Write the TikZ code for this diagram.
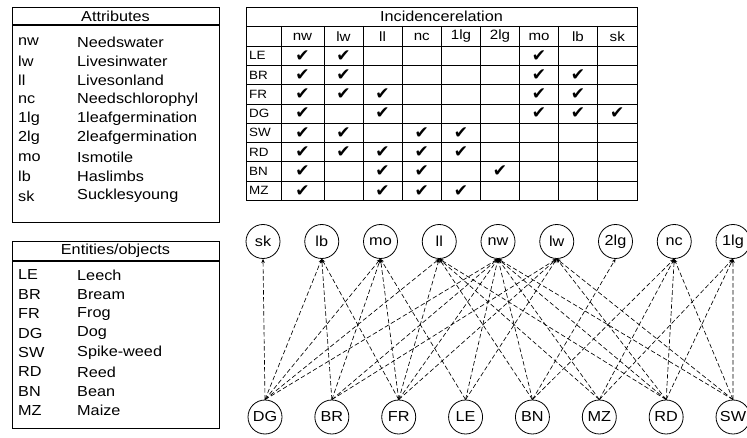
\documentclass[tikz,border=0pt]{standalone}
\usepackage{fontspec}
\setmainfont[FakeStretch=1.12]{Liberation Sans}
\newfontfamily\dv{DejaVu Sans}
\usetikzlibrary{arrows.meta}
\begin{document}
\begin{tikzpicture}[x=1pt,y=-1pt,
  frame/.style={draw=black,line width=0.9pt},
  sep/.style={draw=black,line width=1.4pt},
  grid/.style={draw=black,line width=0.7pt},
  ttl/.style={font=\fontsize{14.5}{16}\selectfont,inner sep=0pt},
  lbl/.style={font=\fontsize{14.5}{16}\selectfont,inner sep=0pt,anchor=west},
  hdr/.style={font=\fontsize{13.5}{15}\selectfont,inner sep=0pt},
  rl/.style={font=\fontsize{12}{13}\selectfont,inner sep=0pt,anchor=west},
  chk/.style={font=\dv\fontsize{17}{18}\selectfont,inner sep=0pt},
  vtx/.style={circle,draw=black,line width=0.8pt,minimum size=34pt,inner sep=0pt,font=\fontsize{14.5}{16}\selectfont},
  edge/.style={draw=black,line width=0.65pt,dash pattern=on 4.5pt off 2.5pt,-{Stealth[length=4pt,width=3.5pt]}}
]
\useasboundingbox (0,0) rectangle (747,438);
\fill[white] (0,0) rectangle (747,438);
% Attributes box
\draw[frame] (12,7) rectangle (219,222);
\draw[sep] (12,25) -- (219,25);
\node[ttl] (attT) at (115.5,16) {Attributes};
\foreach \a/\n [count=\i from 0] in {nw/Needswater,lw/Livesinwater,ll/Livesonland,nc/Needschlorophyl,1lg/1leafgermination,2lg/2leafgermination,mo/Ismotile,lb/Haslimbs,sk/Sucklesyoung}{
  \node[lbl] (aa\i) at (18,{42+19.25*\i}) {\a};
  \node[lbl] (an\i) at (77,{42+19.25*\i}) {\n};
}
% Entities box
\draw[frame] (12,241) rectangle (219,428);
\draw[sep] (12,261) -- (219,261);
\node[ttl] (entT) at (115.5,251) {Entities/objects};
\foreach \a/\n [count=\i from 0] in {LE/Leech,BR/Bream,FR/Frog,DG/Dog,SW/Spike-weed,RD/Reed,BN/Bean,MZ/Maize}{
  \node[lbl] (ea\i) at (18,{275+19.4*\i}) {\a};
  \node[lbl] (en\i) at (77,{275+19.4*\i}) {\n};
}
% Incidence table
\def\tT{7}\def\tA{26}\def\tB{46}\def\rh{19.3}
\draw[grid] (246,\tT) rectangle (637,{\tB+8*\rh});
\draw[grid] (246,\tA) -- (637,\tA);
\foreach \k in {0,...,7}{\draw[grid] (246,{\tB+\k*\rh}) -- (637,{\tB+\k*\rh});}
\foreach \xx in {281,324,363,402,441.5,480.5,519.5,558.5,597.5}{\draw[grid] (\xx,\tA) -- (\xx,{\tB+8*\rh});}
\node[ttl] (incT) at (441.5,16.5) {Incidencerelation};
\foreach \h/\c [count=\j from 0] in {nw/302.5,lw/343.5,ll/382.5,nc/421.75,1lg/461,2lg/500,mo/539,lb/578,sk/617.25}{
  \node[hdr] (h\j) at (\c,36.5) {\h};
}
\foreach \r [count=\i from 0] in {LE,BR,FR,DG,SW,RD,BN,MZ}{
  \node[rl] (r\i) at (249,{\tB+\rh*\i+\rh/2}) {\r};
}
% checks: row index / column centers
\foreach \i/\cols in {0/{302.5,343.5,539},1/{302.5,343.5,539,578},2/{302.5,343.5,382.5,539,578},3/{302.5,382.5,539,578,617.25},4/{302.5,343.5,421.75,461},5/{302.5,343.5,382.5,421.75,461},6/{302.5,382.5,421.75,500},7/{302.5,382.5,421.75,461}}{
  \foreach \c in \cols {\node[chk] at (\c,{\tB+\rh*\i+\rh/2}) {✔};}
}
% graph: attribute vertices
\foreach \n/\t [count=\i from 0] in {sk/sk,lb/lb,mo/mo,ll/ll,nw/nw,lw/lw,tlg/2lg,nc/nc,olg/1lg}{
  \node[vtx] (\n) at ({263+58.75*\i},241.5) {\t};
}
\foreach \n [count=\i from 0] in {DG,BR,FR,LE,BN,MZ,RD,SW}{
  \node[vtx] (\n) at ({265+66.86*\i},417) {\n};
}
\foreach \e/\alist in {LE/{nw,lw,mo},BR/{nw,lw,mo,lb},FR/{nw,lw,ll,mo,lb},DG/{nw,ll,mo,lb,sk},SW/{nw,lw,nc,olg},RD/{nw,lw,ll,nc,olg},BN/{nw,ll,nc,tlg},MZ/{nw,ll,nc,olg}}{
  \foreach \a in \alist {\draw[edge] (\e.north) -- (\a.south);}
}
\end{tikzpicture}
\end{document}
